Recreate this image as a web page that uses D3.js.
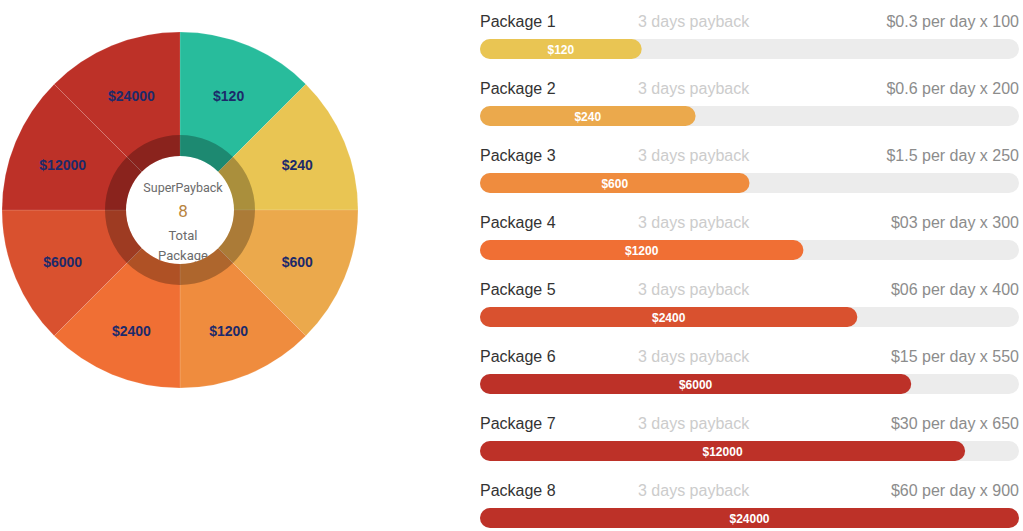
<!DOCTYPE html>
<html>
<head>
<meta charset="utf-8">
<script src="https://cdn.jsdelivr.net/npm/d3@7"></script>
<style>
  html, body { margin: 0; padding: 0; background: #fff; }
  svg { display: block; }
</style>
</head>
<body>
<svg id="chart" width="1023" height="531"></svg>
<script>
// ---- data ----
const packages = ["Package 1","Package 2","Package 3","Package 4","Package 5","Package 6","Package 7","Package 8"];
const amounts = [120, 240, 600, 1200, 2400, 6000, 12000, 24000];
const progress = [30, 40, 50, 60, 70, 80, 90, 100];
const paybackDays = [3, 3, 3, 3, 3, 3, 3, 3];
const perDay = ["$0.3", "$0.6", "$1.5", "$03", "$06", "$15", "$30", "$60"];
const counts = [100, 200, 250, 300, 400, 550, 650, 900];
const pieColors = ["#28bc9c","#e9c553","#eba94c","#ef8c3e","#f06f34","#d9512f","#bd3128","#bd3128"];
const barColors = ["#e9c553","#eba94c","#ef8c3e","#f06f34","#d9512f","#bd3128","#bd3128","#bd3128"];
const centerTitle = "SuperPayback";
const centerLines = ["Total", "Package"];

const svg = d3.select("#chart");
const sans = "'Liberation Sans', Arial, sans-serif";
const roboto = "Roboto, 'Liberation Sans', Arial, sans-serif";

// ---- donut ----
const cx = 180, cy = 210, R = 178;
const g = svg.append("g").attr("transform", `translate(${cx},${cy})`);
const pie = d3.pie().value(() => 1).sort(null);
const arcs = pie(packages.map((p, i) => i));
const arc = d3.arc().innerRadius(0).outerRadius(R);
const labelArc = d3.arc().innerRadius(127).outerRadius(127);

g.selectAll("path.slice").data(arcs).join("path")
  .attr("class", "slice")
  .attr("d", arc)
  .attr("fill", d => pieColors[d.data])
  .attr("stroke", "#fff")
  .attr("stroke-width", 0.6)
  .attr("stroke-opacity", 0.22);

g.selectAll("text.plabel").data(arcs).join("text")
  .attr("class", "plabel")
  .attr("transform", d => { const c = labelArc.centroid(d); return `translate(${c[0]},${c[1] + 3.5})`; })
  .attr("text-anchor", "middle")
  .attr("dy", "0.36em")
  .attr("font-family", sans)
  .attr("font-weight", "bold")
  .attr("font-size", 14)
  .attr("fill", "#1c2a6a")
  .text(d => "$" + amounts[d.data]);

// white centre
g.append("circle").attr("r", 54).attr("fill", "#fff");

// clip for centre text
const defs = svg.append("defs");
defs.append("clipPath").attr("id", "centerClip")
  .append("circle").attr("cx", cx).attr("cy", cy).attr("r", 54);

const ct = svg.append("g").attr("clip-path", "url(#centerClip)")
  .attr("font-family", roboto).attr("text-anchor", "middle");
ct.append("text").attr("x", cx + 3).attr("y", 192)
  .attr("font-size", 12.5).attr("fill", "#6b6b6b").text(centerTitle);
ct.append("text").attr("x", cx + 3).attr("y", 217)
  .attr("font-size", 17).attr("fill", "#b8843e").text(packages.length);
ct.append("text").attr("x", cx + 3).attr("y", 240)
  .attr("font-size", 13).attr("fill", "#6b6b6b").text(centerLines[0]);
ct.append("text").attr("x", cx + 3).attr("y", 260)
  .attr("font-size", 13).attr("fill", "#6b6b6b").text(centerLines[1]);

// dark translucent ring
const ringArc = d3.arc().innerRadius(54).outerRadius(75).startAngle(0).endAngle(2 * Math.PI);
g.append("path").attr("d", ringArc()).attr("fill", "rgba(0,0,0,0.27)");

// ---- progress bars ----
const x = d3.scaleLinear().domain([0, 100]).range([480, 1019]);
const rowY = d3.scaleLinear().domain([0, 1]).range([0, 67]);
const barH = 20;

const rows = svg.selectAll("g.row").data(packages).join("g")
  .attr("class", "row")
  .attr("transform", (d, i) => `translate(0,${rowY(i)})`);

rows.append("text")
  .attr("x", x(0)).attr("y", 27)
  .attr("font-family", sans).attr("font-size", 16).attr("fill", "#333")
  .text(d => d);

rows.append("text")
  .attr("x", 638).attr("y", 27)
  .attr("font-family", sans).attr("font-size", 16).attr("fill", "#cccccc")
  .text((d, i) => `${paybackDays[i]} days payback`);

rows.append("text")
  .attr("x", x(100)).attr("y", 27)
  .attr("text-anchor", "end")
  .attr("font-family", sans).attr("font-size", 16).attr("fill", "#8c8c8c")
  .text((d, i) => `${perDay[i]} per day x ${counts[i]}`);

rows.append("rect")
  .attr("x", x(0)).attr("y", 39)
  .attr("width", x(100) - x(0)).attr("height", barH)
  .attr("rx", barH / 2).attr("ry", barH / 2)
  .attr("fill", "#ececec");

rows.append("rect")
  .attr("x", x(0)).attr("y", 39)
  .attr("width", (d, i) => x(progress[i]) - x(0)).attr("height", barH)
  .attr("rx", barH / 2).attr("ry", barH / 2)
  .attr("fill", (d, i) => barColors[i]);

rows.append("text")
  .attr("x", (d, i) => (x(0) + x(progress[i])) / 2).attr("y", 53.5)
  .attr("text-anchor", "middle")
  .attr("font-family", sans).attr("font-weight", "bold").attr("font-size", 12)
  .attr("fill", "#fff")
  .text((d, i) => "$" + amounts[i]);
</script>
</body>
</html>
